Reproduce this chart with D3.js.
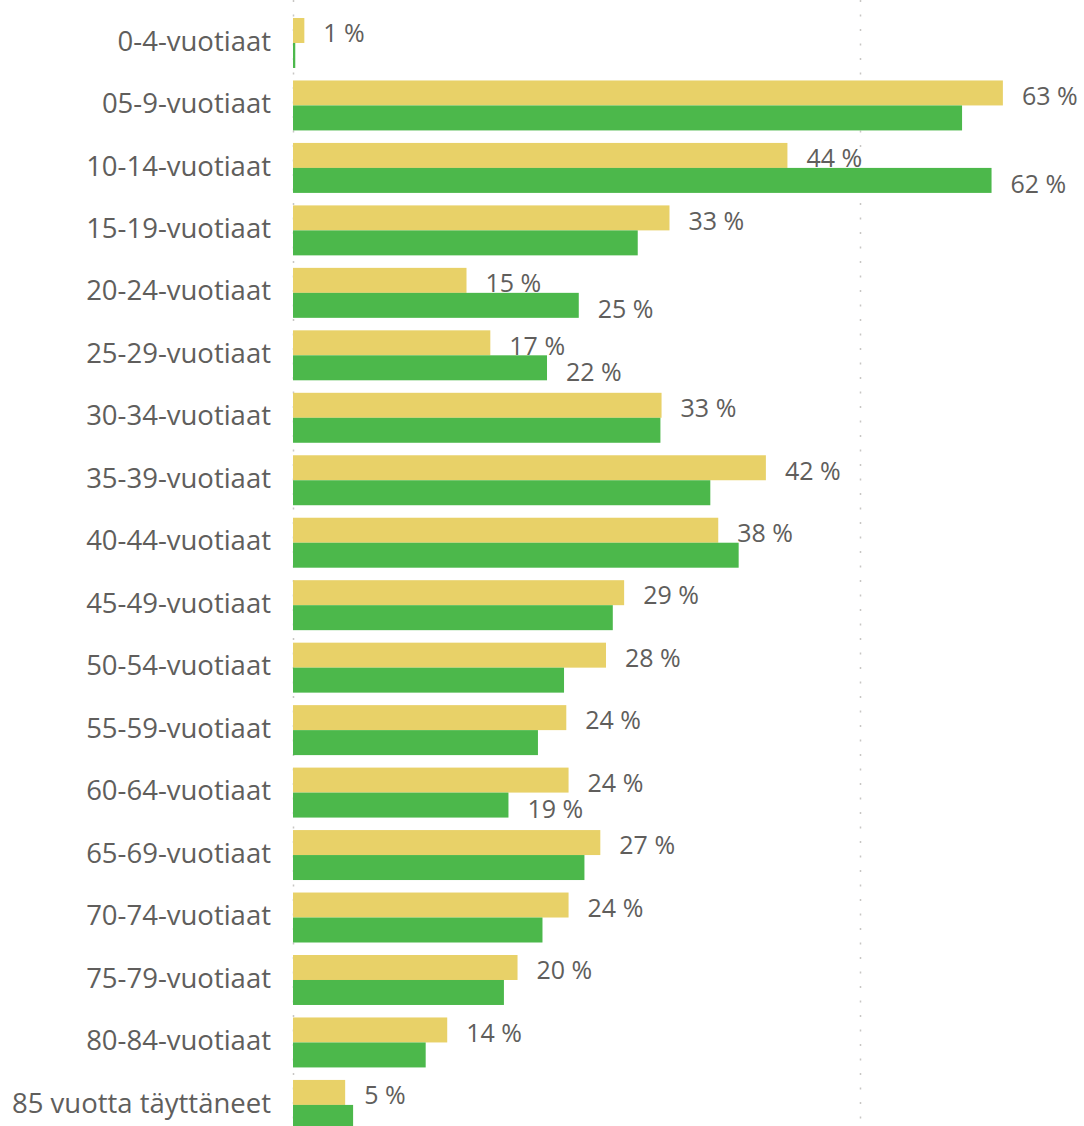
<!DOCTYPE html>
<html>
<head>
<meta charset="utf-8">
<script src="https://cdn.jsdelivr.net/npm/d3@7"></script>
<style>
  body { margin: 0; background: #fff; }
  svg { display: block; }
  text { font-family: "Open Sans", "Noto Sans", sans-serif; }
</style>
</head>
<body>
<script>
// Age groups (categories)
var ageGroups = ["0-4-vuotiaat", "05-9-vuotiaat", "10-14-vuotiaat", "15-19-vuotiaat",
  "20-24-vuotiaat", "25-29-vuotiaat", "30-34-vuotiaat", "35-39-vuotiaat",
  "40-44-vuotiaat", "45-49-vuotiaat", "50-54-vuotiaat", "55-59-vuotiaat",
  "60-64-vuotiaat", "65-69-vuotiaat", "70-74-vuotiaat", "75-79-vuotiaat",
  "80-84-vuotiaat", "85 vuotta täyttäneet"];

// Yellow series (top bar of each pair), percent
var yellowValues = [1.0, 62.6, 43.6, 33.2, 15.3, 17.4, 32.5, 41.7, 37.5, 29.2,
  27.6, 24.1, 24.3, 27.1, 24.3, 19.8, 13.6, 4.6];

// Green series (bottom bar of each pair), percent
var greenValues = [0.2, 59.0, 61.6, 30.4, 25.2, 22.4, 32.4, 36.8, 39.3, 28.2,
  23.9, 21.6, 19.0, 25.7, 22.0, 18.6, 11.7, 5.3];

// Groups where the green data label is visible
var greenLabelGroups = ["10-14-vuotiaat", "20-24-vuotiaat", "25-29-vuotiaat", "60-64-vuotiaat"];

// Gridline values on the x axis
var gridValues = [0, 50];

var width = 1084, height = 1126;
var textColor = "#605E5C";

var svg = d3.select("body").append("svg")
  .attr("width", width)
  .attr("height", height);

var x = d3.scaleLinear()
  .domain([0, 50])
  .range([293, 860]);

var y = d3.scaleBand()
  .domain(ageGroups)
  .range([5.5, 1142.4])
  .paddingInner(0.2)
  .paddingOuter(0.2);

var sub = d3.scaleBand()
  .domain(["yellow", "green"])
  .range([0, y.bandwidth()]);

// dotted gridlines
svg.selectAll(".grid")
  .data(gridValues)
  .enter()
  .append("line")
  .attr("class", "grid")
  .attr("x1", d => x(d) + 0.5)
  .attr("x2", d => x(d) + 0.5)
  .attr("y1", 0)
  .attr("y2", height)
  .attr("stroke", "#C8C6C4")
  .attr("stroke-width", 1.5)
  .attr("stroke-dasharray", "2,12.5");

var rows = ageGroups.map(function (g, i) {
  return { group: g, yellow: yellowValues[i], green: greenValues[i] };
});

var row = svg.selectAll(".row")
  .data(rows)
  .enter()
  .append("g")
  .attr("class", "row")
  .attr("transform", d => "translate(0," + y(d.group) + ")");

// category labels
row.append("text")
  .attr("x", 271)
  .attr("y", y.bandwidth() / 2 - 2)
  .attr("dy", "0.35em")
  .attr("text-anchor", "end")
  .attr("fill", textColor)
  .style("font-size", "27.5px")
  .text(d => d.group);

// yellow bars
row.append("rect")
  .attr("x", x(0))
  .attr("y", sub("yellow"))
  .attr("width", d => x(d.yellow) - x(0))
  .attr("height", sub.bandwidth())
  .attr("fill", "#E8D168");

// green bars
row.append("rect")
  .attr("x", x(0))
  .attr("y", sub("green"))
  .attr("width", d => x(d.green) - x(0))
  .attr("height", sub.bandwidth())
  .attr("fill", "#4CB84B");

// yellow data labels
row.append("text")
  .attr("x", d => x(d.yellow) + 19)
  .attr("y", sub("yellow") + sub.bandwidth() / 2 + 3)
  .attr("dy", "0.35em")
  .attr("fill", textColor)
  .style("font-size", "25px")
  .text(d => Math.round(d.yellow) + " %");

// green data labels (only where visible in the original)
row.filter(d => greenLabelGroups.indexOf(d.group) >= 0)
  .append("text")
  .attr("x", d => x(d.green) + 19)
  .attr("y", sub("green") + sub.bandwidth() / 2 + 4)
  .attr("dy", "0.35em")
  .attr("fill", textColor)
  .style("font-size", "25px")
  .text(d => Math.round(d.green) + " %");
</script>
</body>
</html>
